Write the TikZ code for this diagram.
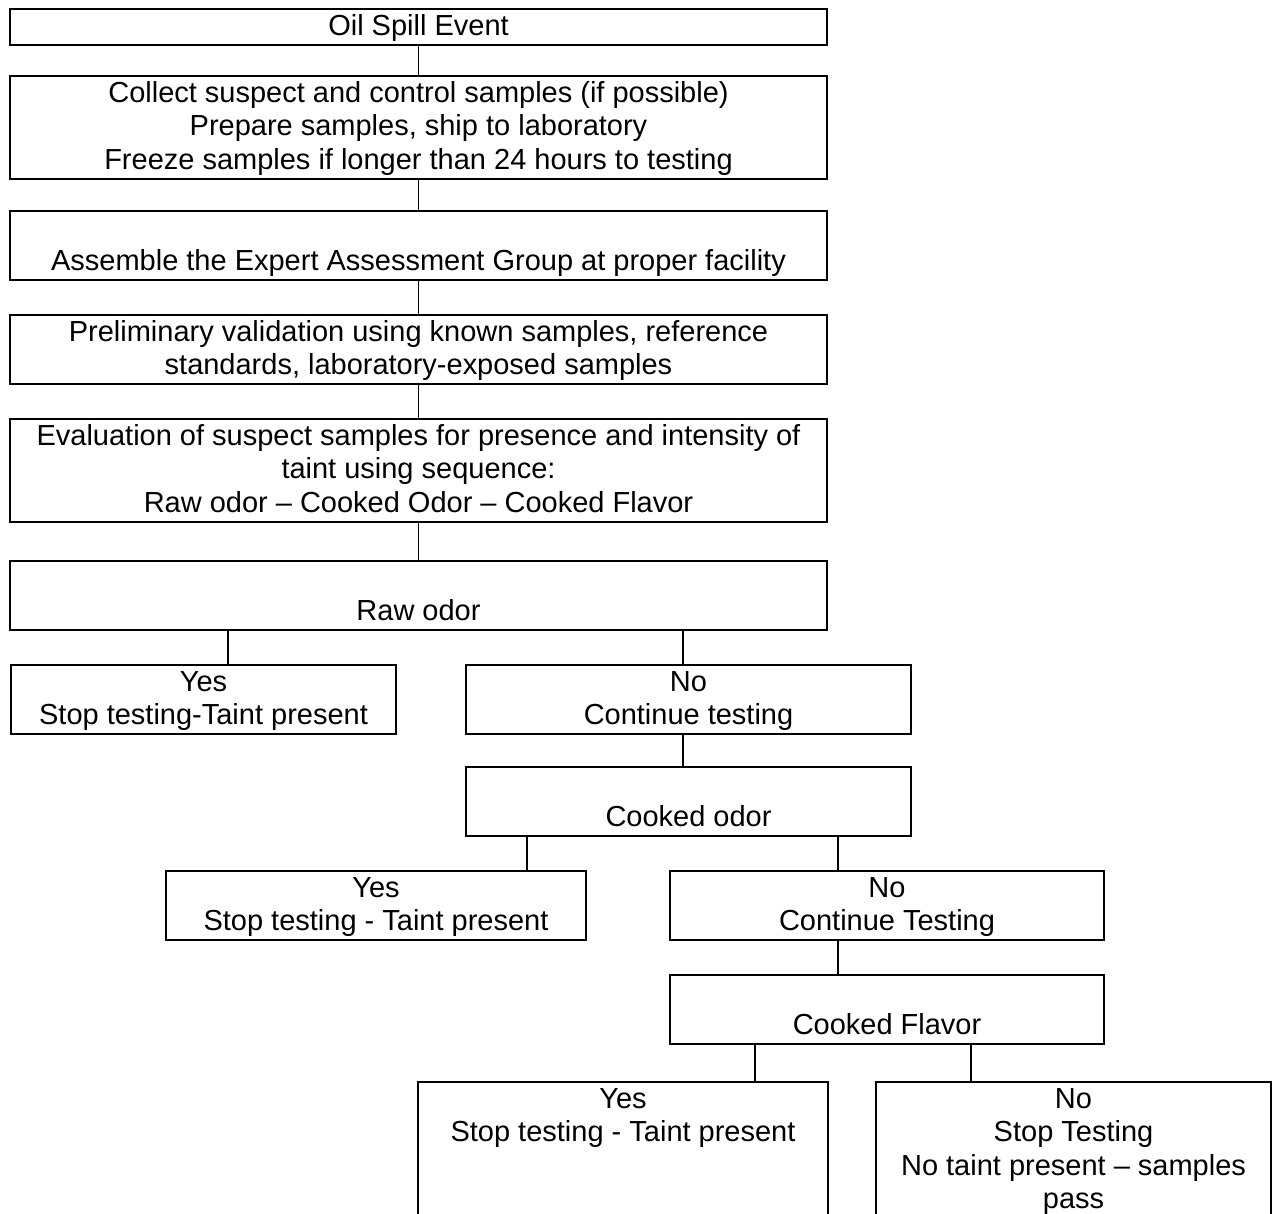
\documentclass[tikz,border=0pt]{standalone}
\usepackage{fontspec}
\setmainfont{Liberation Sans}
\usepackage{tikz}
\newcommand{\hi}{\rule{0pt}{0.53cm}}
\newcommand{\lo}{\rule[-0.19cm]{0pt}{0pt}}

\begin{document}
\begin{tikzpicture}[x=0.02cm,y=-0.02cm,
        box/.style={draw,line width=1.1pt,anchor=north,inner sep=0pt,align=center,
            font=\fontsize{16.5pt}{0.67cm}\selectfont},
        link/.style={line width=0.6pt}]
        \useasboundingbox (0,0) rectangle (1277,1213);
        \clip (0,0) rectangle (1277,1213);
        \node[box,minimum width=16.34cm] (event) at (418.5,8) {\hi Oil Spill Event\lo};
        \node[box,minimum width=16.34cm] (collect) at (418.5,75) {\hi Collect suspect and control samples (if possible)\\Prepare samples, ship to laboratory\\Freeze samples if longer than 24 hours to testing\lo};
        \node[box,minimum width=16.34cm] (assemble) at (418.5,210) {\hi\\Assemble the Expert Assessment Group at proper facility\lo};
        \node[box,minimum width=16.34cm] (prelim) at (418.5,314) {\hi Preliminary validation using known samples, reference\\standards, laboratory-exposed samples\lo};
        \node[box,minimum width=16.34cm] (evaluate) at (418.5,418) {\hi Evaluation of suspect samples for presence and intensity of\\taint using sequence:\\Raw odor -- Cooked Odor -- Cooked Flavor\lo};
        \node[box,minimum width=16.34cm] (raw) at (418.5,560) {\hi\\Raw odor\lo};
        \node[box,minimum width=7.7cm] (yesraw) at (203.5,664) {\hi Yes\\Stop testing-Taint present\lo};
        \node[box,minimum width=8.9cm] (noraw) at (688.5,664) {\hi No\\Continue testing\lo};
        \node[box,minimum width=8.9cm] (cooked) at (688.5,766) {\hi\\Cooked odor\lo};
        \node[box,minimum width=8.4cm] (yescooked) at (376,870) {\hi Yes\\Stop testing - Taint present\lo};
        \node[box,minimum width=8.68cm] (nocooked) at (887,870) {\hi No\\Continue Testing\lo};
        \node[box,minimum width=8.68cm] (flavor) at (887,974) {\hi\\Cooked Flavor\lo};
        \node[box,minimum width=8.2cm] (yesflavor) at (623,1081) {\hi Yes\\Stop testing - Taint present\\~\\~\lo};
        \node[box,minimum width=7.9cm] (noflavor) at (1073.5,1081) {\hi No\\Stop Testing\\No taint present -- samples\\pass\lo};
        \draw[link] (event) -- (collect);
        \draw[link] (collect) -- (assemble);
        \draw[link] (assemble) -- (prelim);
        \draw[link] (prelim) -- (evaluate);
        \draw[link] (evaluate) -- (raw);
        \draw[link] (228,0 |- raw.south) -- (228,0 |- yesraw.north);
        \draw[link] (683,0 |- raw.south) -- (683,0 |- noraw.north);
        \draw[link] (683,0 |- noraw.south) -- (683,0 |- cooked.north);
        \draw[link] (527,0 |- cooked.south) -- (527,0 |- yescooked.north);
        \draw[link] (838,0 |- cooked.south) -- (838,0 |- nocooked.north);
        \draw[link] (838,0 |- nocooked.south) -- (838,0 |- flavor.north);
        \draw[link] (755,0 |- flavor.south) -- (755,0 |- yesflavor.north);
        \draw[link] (971,0 |- flavor.south) -- (971,0 |- noflavor.north);
    \end{tikzpicture}
\end{document}
